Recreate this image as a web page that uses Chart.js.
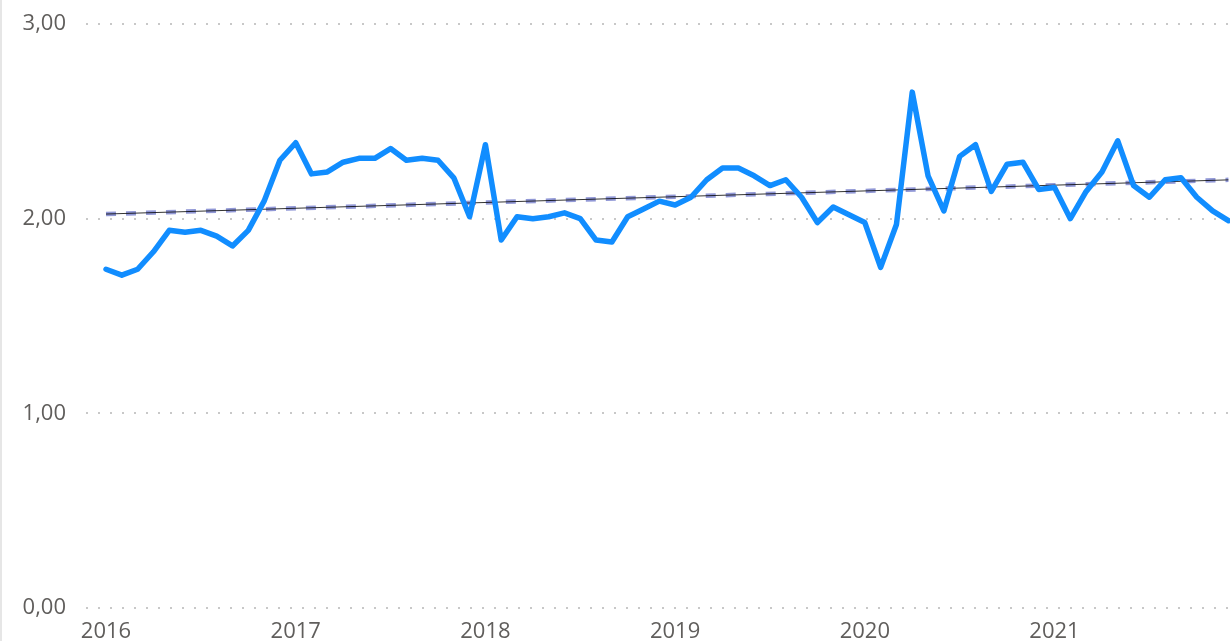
<!DOCTYPE html>
<html>
<head>
<meta charset="utf-8">
<script src="https://cdn.jsdelivr.net/npm/chart.js@4.4.1/dist/chart.umd.min.js"></script>
<style>
    html, body { margin: 0; padding: 0; background: #fff; }
    #wrap { position: relative; width: 1230px; height: 641px; }
    #edge { position: absolute; left: 0; top: 0; width: 2px; height: 641px; background: #e6e6e6; }
</style>
</head>
<body>
<div id="wrap">
    <canvas id="priceChart" width="1230" height="641"></canvas>
    <div id="edge"></div>
</div>
<script>
// monthly values, Jan 2016 .. Dec 2021
const years = ['2016', '2017', '2018', '2019', '2020', '2021'];
const values2016 = [1.74, 1.71, 1.74, 1.83, 1.94, 1.93, 1.94, 1.91, 1.86, 1.94, 2.09, 2.30];
const values2017 = [2.39, 2.23, 2.24, 2.29, 2.31, 2.31, 2.36, 2.30, 2.31, 2.30, 2.21, 2.01];
const values2018 = [2.38, 1.89, 2.01, 2.00, 2.01, 2.03, 2.00, 1.89, 1.88, 2.01, 2.05, 2.09];
const values2019 = [2.07, 2.11, 2.20, 2.26, 2.26, 2.22, 2.17, 2.20, 2.11, 1.98, 2.06, 2.02];
const values2020 = [1.98, 1.75, 1.97, 2.65, 2.22, 2.04, 2.32, 2.38, 2.14, 2.28, 2.29, 2.15];
const values2021 = [2.16, 2.00, 2.14, 2.24, 2.40, 2.17, 2.11, 2.20, 2.21, 2.11, 2.04, 1.99];
const yTicks = [0, 1, 2, 3];

const values = [].concat(values2016, values2017, values2018, values2019, values2020, values2021);
const points = values.map((v, i) => ({x: i, y: v}));

// least squares trend over the monthly series
function trendLine(pts) {
    const n = pts.length;
    let sx = 0, sy = 0, sxx = 0, sxy = 0;
    pts.forEach(p => { sx += p.x; sy += p.y; sxx += p.x * p.x; sxy += p.x * p.y; });
    const slope = (n * sxy - sx * sy) / (n * sxx - sx * sx);
    const icpt = (sy - slope * sx) / n;
    const first = pts[0].x, last = pts[n - 1].x;
    return [{x: first, y: icpt + slope * first}, {x: last, y: icpt + slope * last}];
}
const trend = trendLine(points);

const fontFamily = '"Segoe UI", "Open Sans", sans-serif';

new Chart(document.getElementById('priceChart'), {
    type: 'line',
    data: {
        datasets: [
            {
                data: points,
                borderColor: '#118dff',
                borderWidth: 5.5,
                borderJoinStyle: 'round',
                borderCapStyle: 'round',
                pointRadius: 0,
                tension: 0
            },
            {
                data: trend,
                borderColor: 'rgba(0, 0, 0, 0.8)',
                borderWidth: 1,
                pointRadius: 0
            },
            {
                data: trend,
                borderColor: 'rgba(118, 126, 204, 0.8)',
                borderWidth: 4.5,
                borderDash: [10, 10],
                pointRadius: 0
            }
        ]
    },
    options: {
        responsive: false,
        animation: false,
        layout: {
            padding: {top: 24, right: 0, bottom: 0, left: 0}
        },
        plugins: {
            legend: {display: false},
            tooltip: {enabled: false}
        },
        scales: {
            x: {
                type: 'linear',
                min: -1.266,
                max: 71.1,
                afterFit: (scale) => {
                    scale.height = 33;
                    scale.paddingLeft = 0;
                    scale.paddingRight = 0;
                },
                afterBuildTicks: (scale) => {
                    scale.ticks = years.map((y, i) => ({value: i * 12}));
                },
                grid: {display: false, drawTicks: false},
                border: {display: false},
                ticks: {
                    autoSkip: false,
                    maxRotation: 0,
                    padding: 11,
                    color: '#605e5c',
                    font: {family: fontFamily, size: 22},
                    callback: (v) => years[Math.round(v / 12)]
                }
            },
            y: {
                min: 0,
                max: 3,
                afterFit: (scale) => {
                    scale.width = 86;
                    scale.paddingTop = 0;
                    scale.paddingBottom = 0;
                },
                afterBuildTicks: (scale) => {
                    scale.ticks = yTicks.map(v => ({value: v}));
                },
                grid: {
                    color: '#c8c8c8',
                    lineWidth: 2,
                    drawTicks: false
                },
                border: {display: false, dash: [2, 10]},
                ticks: {
                    padding: 20,
                    color: '#605e5c',
                    font: {family: fontFamily, size: 22},
                    callback: (v) => v.toFixed(2).replace('.', ',')
                }
            }
        }
    }
});
</script>
</body>
</html>
